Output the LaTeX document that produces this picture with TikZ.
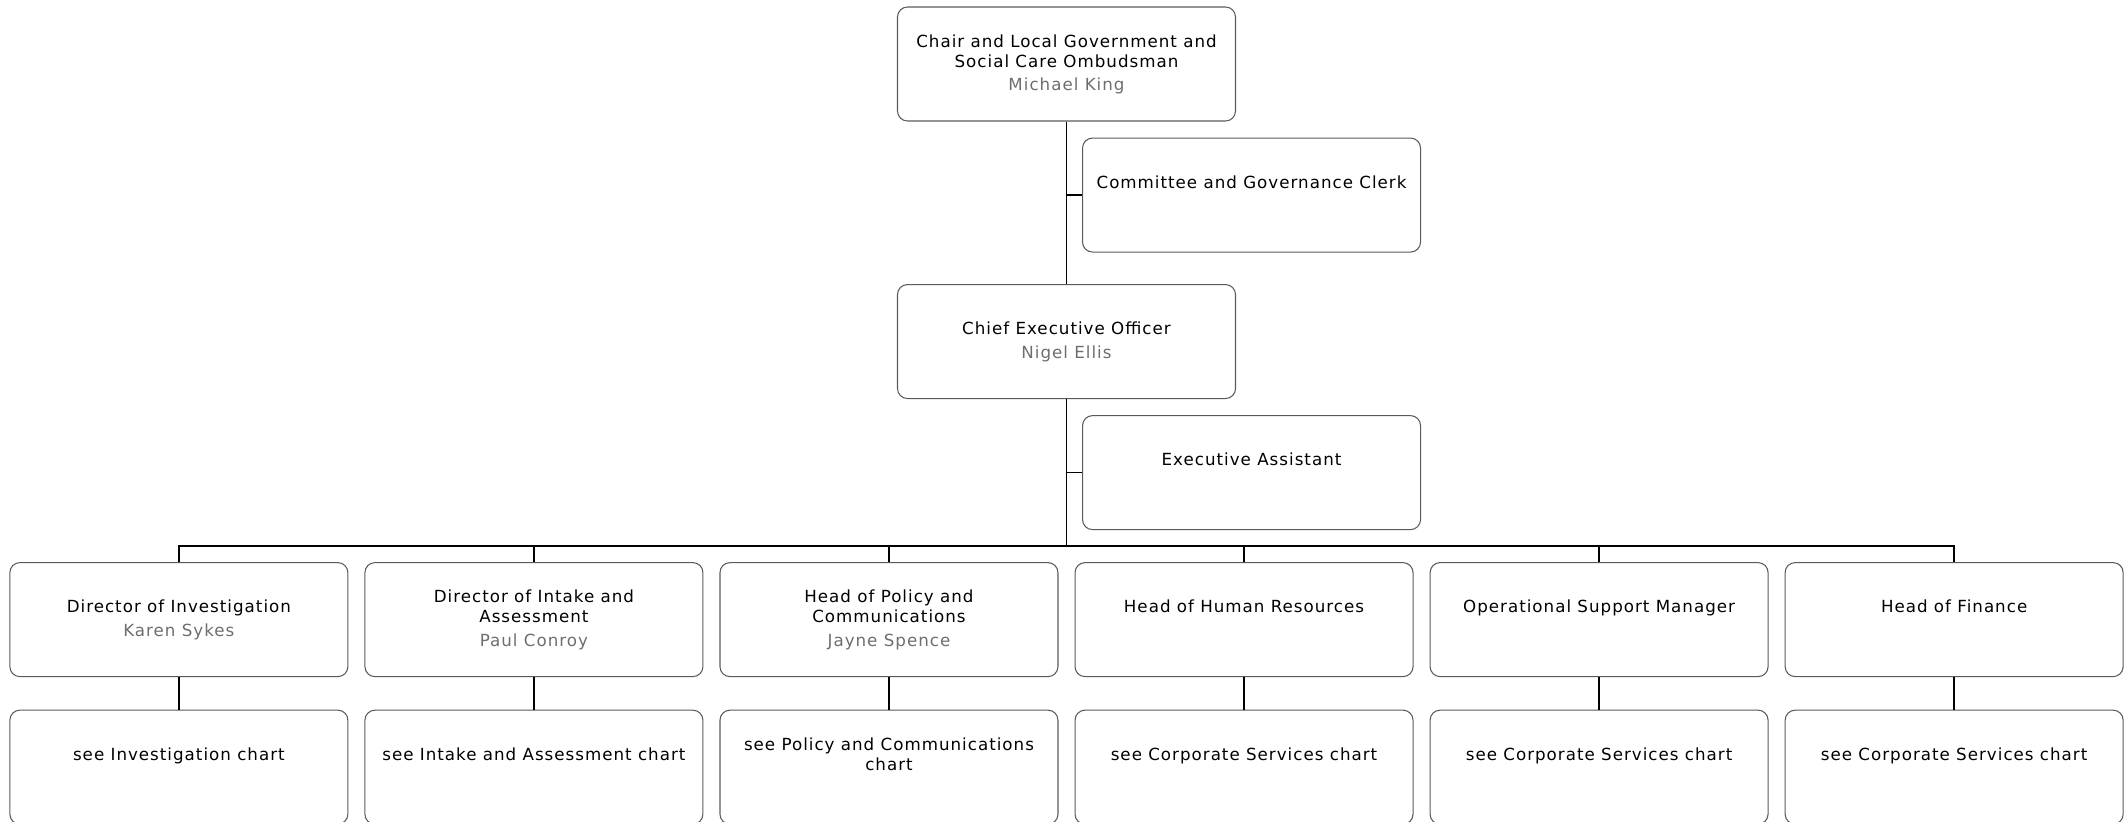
\documentclass[tikz,border=0pt]{standalone}
\usepackage{fontspec}
\setmainfont[LetterSpace=6]{DejaVu Sans}
\usepackage{tikz}
\usetikzlibrary{positioning}

\definecolor{namegray}{RGB}{110,110,110}
\definecolor{boxline}{RGB}{90,90,90}

\begin{document}
\begin{tikzpicture}[
        post/.style={draw=boxline, line width=0.6pt, rounded corners=0.2cm,
          minimum width=6.76cm, minimum height=2.28cm, inner sep=0pt,
          align=center, font=\fontsize{9.5}{11.5}\selectfont},
        link/.style={draw=black, line width=0.8pt}
      ]
      \useasboundingbox (0,0) rectangle (42.54,-16.42);
      \node[post] (chair) at (21.33,-1.28)
        {Chair and Local Government and\\Social Care Ombudsman\\[1.5pt]\textcolor{namegray}{Michael King}};
      \node[post, below right=0.32cm and 0.31cm of chair.south] (clerk)
        {Committee and Governance Clerk\\\strut};
      \node[post, below=3.25cm of chair] (ceo)
        {Chief Executive Officer\\[2pt]\textcolor{namegray}{Nigel Ellis}};
      \node[post, below right=0.32cm and 0.31cm of ceo.south] (ea)
        {Executive Assistant\\\strut};

      \node[post, below left=3.26cm and 0.16cm of ceo.south] (pol)
        {Head of Policy and\\Communications\\[2pt]\textcolor{namegray}{Jayne Spence}};
      \node[post, left=0.32cm of pol] (intake)
        {Director of Intake and\\Assessment\\[2pt]\textcolor{namegray}{Paul Conroy}};
      \node[post, left=0.32cm of intake] (inv)
        {Director of Investigation\\[2pt]\textcolor{namegray}{Karen Sykes}};
      \node[post, below right=3.26cm and 0.16cm of ceo.south] (hr)
        {Head of Human Resources\\\strut};
      \node[post, right=0.32cm of hr] (ops)
        {Operational Support Manager\\\strut};
      \node[post, right=0.32cm of ops] (fin)
        {Head of Finance\\\strut};

      \node[post, below=0.65cm of inv] (invchart) {see Investigation chart\\\strut};
      \node[post, below=0.65cm of intake] (intakechart) {see Intake and Assessment chart\\\strut};
      \node[post, below=0.65cm of pol] (polchart) {see Policy and Communications\\chart\\\strut};
      \node[post, below=0.65cm of hr] (hrchart) {see Corporate Services chart\\\strut};
      \node[post, below=0.65cm of ops] (opschart) {see Corporate Services chart\\\strut};
      \node[post, below=0.65cm of fin] (finchart) {see Corporate Services chart\\\strut};

      \coordinate[above=0.32cm of inv.north] (bus);

      \draw[link] (chair.south) -- (ceo.north);
      \draw[link] (clerk.west) -- (clerk.west -| chair.south);
      \draw[link] (ceo.south) -- (ceo.south |- bus);
      \draw[link] (ea.west) -- (ea.west -| ceo.south);
      \draw[link] (inv.north) |- (bus) -| (fin.north);
      \foreach \post in {intake, pol, hr, ops}
        \draw[link] (\post.north) -- (\post.north |- bus);
      \foreach \post in {inv, intake, pol, hr, ops, fin}
        \draw[link] (\post.south) -- (\post chart.north);
\end{tikzpicture}
\end{document}
